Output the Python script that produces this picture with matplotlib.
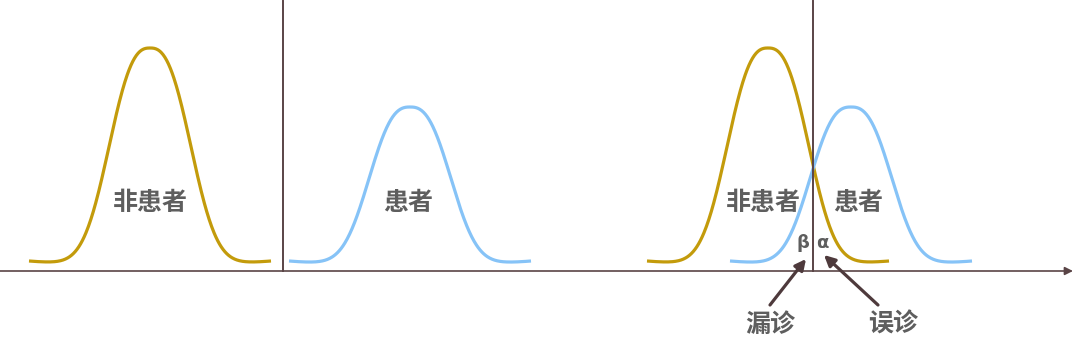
import numpy as np
import matplotlib
matplotlib.use('Agg')
import matplotlib.pyplot as plt

plt.rcParams['font.family'] = ['Noto Sans CJK SC', 'DejaVu Sans']

# curve parameters (pixel space of the 1080x355 reference)
curve_names = ['非患者', '患者', '非患者', '患者']
curve_centers = [150, 410, 768, 851]
curve_peaks = [48, 107, 48, 107]
curve_colors = ['#C39B0B', '#86C3F7', '#C39B0B', '#86C3F7']
half_span = 121
base_y = 263.5
shape_w = 49.5
shape_p = 2.6

label_pos = [(150, 203), (408, 203), (763, 203), (858, 203)]
divider_x = [282.5, 812.5]
greek = [('β', 803, 243), ('α', 822, 243)]
arrow_labels = ['漏诊', '误诊']
arrow_tails = [(770, 305), (878, 305)]
arrow_heads = [(806, 259), (824, 255)]
arrow_text = [(770, 325), (893, 325)]

fig = plt.figure(figsize=(10.8, 3.55), dpi=100)
ax = fig.add_axes([0, 0, 1, 1])
ax.set_xlim(0, 1080)
ax.set_ylim(355, 0)
ax.axis('off')

for c, pk, col in zip(curve_centers, curve_peaks, curve_colors):
    d = np.linspace(-half_span, half_span, 400)
    h = base_y - pk
    y = base_y - h * np.exp(-(np.abs(d) / shape_w) ** shape_p) - 2.5 * (d / half_span) ** 4
    ax.plot(c + d, y, color=col, lw=2.3, solid_capstyle='butt')

txt_col = '#5E5E5E'
line_col = '#5A4446'
for name, (x, y) in zip(curve_names, label_pos):
    ax.text(x, y, name, fontsize=18, fontweight='bold', color=txt_col,
            ha='center', va='center')

for x in divider_x:
    ax.plot([x, x], [1, 271], color=line_col, lw=1.4)

ax.annotate('', xy=(1073, 271), xytext=(0, 271),
            arrowprops=dict(arrowstyle='-|>', color=line_col, lw=1.2,
                            mutation_scale=12, shrinkA=0, shrinkB=0))

for s, x, y in greek:
    ax.text(x, y, s, fontsize=13, fontweight='bold', color=txt_col,
            ha='center', va='center', family=['DejaVu Sans'])

for lab, t, hd, tp in zip(arrow_labels, arrow_tails, arrow_heads, arrow_text):
    ax.annotate('', xy=hd, xytext=t,
                arrowprops=dict(arrowstyle='-|>', color='#4E3A3C', lw=2.3,
                                mutation_scale=16, shrinkA=0, shrinkB=0))
    ax.text(tp[0], tp[1], lab, fontsize=18, fontweight='bold', color=txt_col,
            ha='center', va='center')

fig.savefig('out.png', dpi=100)
